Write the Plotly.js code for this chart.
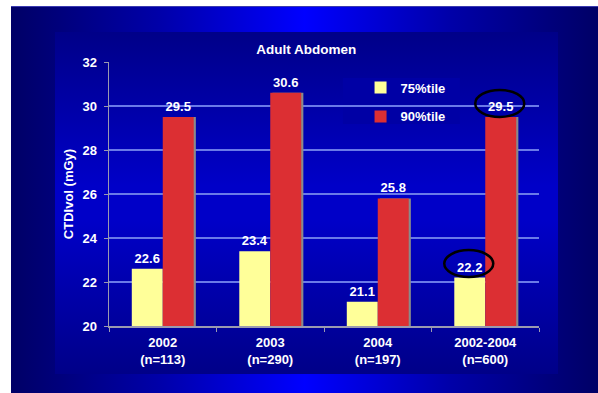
<!DOCTYPE html>
<html>
<head>
<meta charset="utf-8">
<script src="https://cdn.plot.ly/plotly-3.0.1.min.js"></script>
<style>
  html, body { margin: 0; padding: 0; background: #ffffff; }
  #wrap { position: relative; width: 598px; height: 393px; overflow: hidden; }
  #outer { position: absolute; left: 11px; top: 6px; width: 587px; height: 387px;
    background: linear-gradient(to right, #000066 0%, #0000a8 25%, #0000ff 50%, #0000a8 75%, #000066 100%);
    border-top: 1px solid #3a3ab0; box-sizing: border-box; }
  #inner { position: absolute; left: 55px; top: 32px; width: 503px; height: 342px;
    background: linear-gradient(to bottom, #000088 0%, #0000c8 45%, #0000c8 55%, #000088 100%); }
  #chart { position: absolute; left: 0; top: 0; width: 598px; height: 393px; }
</style>
</head>
<body>
<div id="wrap">
  <div id="outer"></div>
  <div id="inner"></div>
  <div id="chart"></div>
</div>
<script>
// ---- data ----
var categories = ["2002<br>(n=113)", "2003<br>(n=290)", "2004<br>(n=197)", "2002-2004<br>(n=600)"];
var p75 = [22.6, 23.4, 21.1, 22.2];
var p90 = [29.5, 30.6, 25.8, 29.5];
var seriesNames = ["75%tile", "90%tile"];
var chartTitle = "Adult Abdomen";
var yTitle = "CTDIvol (mGy)";

// ---- styling ----
var FONT = "Liberation Sans, Arial, sans-serif";
var barW = 0.288;
var shadowShift = 0.02;

var traces = [
  { type: "bar", x: categories, y: p90, width: barW, offset: shadowShift,
    marker: { color: "#8a8a8a" }, showlegend: false, hoverinfo: "skip", textposition: "none" },
  { type: "bar", name: seriesNames[0], x: categories, y: p75, width: barW, offset: -barW,
    marker: { color: "#ffff99" }, legendgroup: "a",
    texttemplate: "%{y:.1f}", textposition: "outside", cliponaxis: false,
    textfont: { family: FONT, size: 13, color: "#ffffff", weight: "bold" } },
  { type: "bar", name: seriesNames[1], x: categories, y: p90, width: barW, offset: 0,
    marker: { color: "#dc2f33" }, legendgroup: "b",
    texttemplate: "%{y:.1f}", textposition: "outside", cliponaxis: false,
    textfont: { family: FONT, size: 13, color: "#ffffff", weight: "bold" } }
];

// highlight ellipses anchored to the last category's values
var last = categories.length - 1;
var shapes = [
  // backdrop behind the legend that interrupts the gridline
  { type: "rect", xref: "paper", yref: "paper", x0: 0.544, x1: 0.816, y0: 0.765, y1: 0.939,
    layer: "between", fillcolor: "rgb(0,0,165)", line: { width: 0 } },
  { type: "circle", xref: "x", yref: "y", xsizemode: "pixel", ysizemode: "pixel",
    xanchor: categories[last], yanchor: p90[last], x0: -10, x1: 39, y0: 0, y1: 27,
    line: { color: "#000000", width: 2.5 } },
  { type: "circle", xref: "x", yref: "y", xsizemode: "pixel", ysizemode: "pixel",
    xanchor: categories[last], yanchor: p75[last], x0: -41, x1: 8, y0: 0.5, y1: 27.5,
    line: { color: "#000000", width: 2.5 } }
];

var layout = {
  width: 598, height: 393,
  margin: { l: 109, r: 59, t: 62, b: 67 },
  paper_bgcolor: "rgba(0,0,0,0)", plot_bgcolor: "rgba(0,0,0,0)",
  font: { family: FONT, size: 13, color: "#ffffff", weight: "bold" },
  barmode: "overlay",
  title: { text: chartTitle, x: 0.512, xanchor: "center", y: 1 - 49 / 393, yanchor: "middle",
    font: { family: FONT, size: 13.5, color: "#ffffff", weight: "bold" } },
  xaxis: { type: "category", tickson: "boundaries", ticks: "outside", ticklen: 4, tickcolor: "#9a9ab0",
    showline: true, linecolor: "#9a9ab0", linewidth: 1.5, showgrid: false,
    ticklabelstandoff: 4,
    tickfont: { family: FONT, size: 13, color: "#ffffff", weight: "bold" } },
  yaxis: { range: [20, 32], dtick: 2, ticks: "outside", ticklen: 4, tickcolor: "#9a9ab0",
    showline: true, linecolor: "#9a9ab0", linewidth: 1.5,
    gridcolor: "#6a7ae8", gridwidth: 1.2, zeroline: false, ticklabelstandoff: 4,
    tickfont: { family: FONT, size: 13, color: "#ffffff", weight: "bold" },
    title: { text: yTitle, standoff: 6, font: { family: FONT, size: 13, color: "#ffffff", weight: "bold" } } },
  legend: { x: 0.585, y: 0.96, xanchor: "left", yanchor: "top", bgcolor: "rgba(0,0,0,0)",
    traceorder: "grouped", tracegroupgap: 9, itemwidth: 30,
    font: { family: FONT, size: 13, color: "#ffffff", weight: "bold" } },
  shapes: shapes,
  showlegend: true
};

Plotly.newPlot("chart", traces, layout, { displayModeBar: false, staticPlot: true });
</script>
</body>
</html>
